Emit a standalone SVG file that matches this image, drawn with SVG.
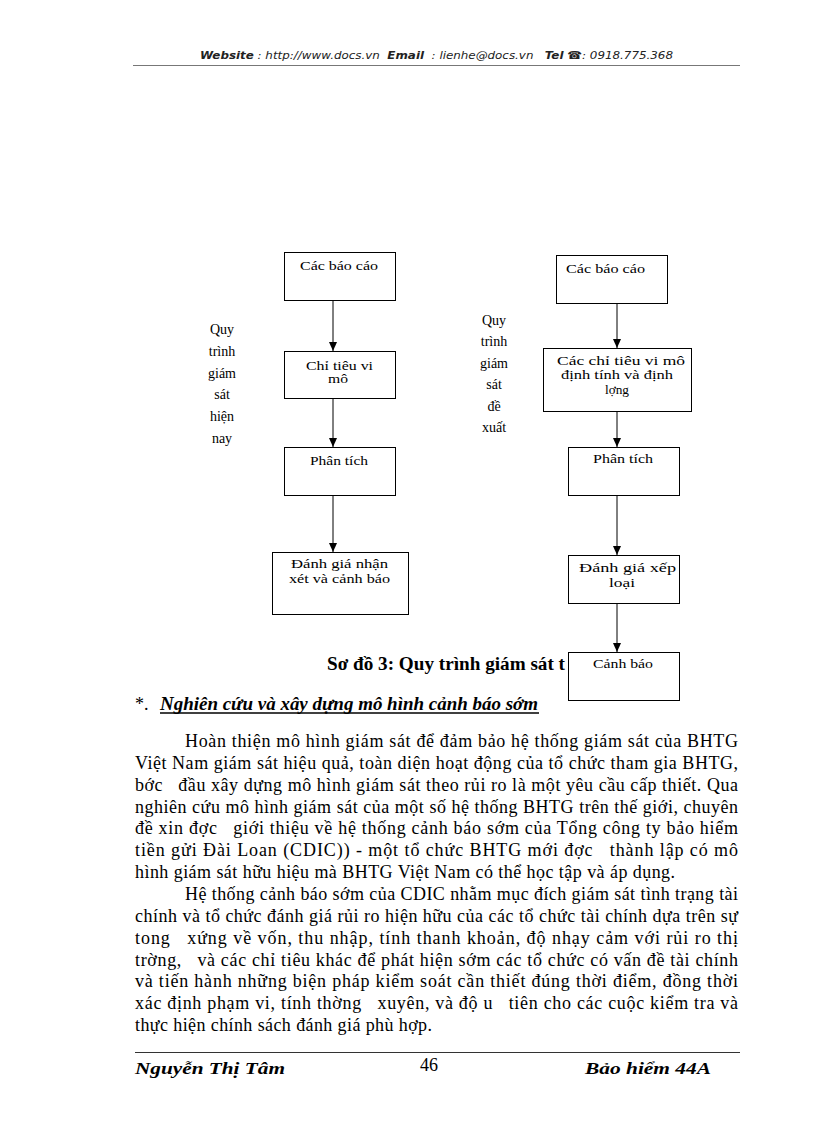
<svg xmlns="http://www.w3.org/2000/svg" width="816" height="1123" viewBox="0 0 816 1123">
<defs>
<marker id="arr" markerUnits="userSpaceOnUse" markerWidth="9" markerHeight="8" refX="9" refY="4" orient="auto" viewBox="0 0 9 8">
<path d="M0,0 L9,4 L0,8 Z" fill="#000"/>
</marker>
<style>
.hdr{font-family:"DejaVu Sans","Liberation Sans",sans-serif;font-size:11px;font-style:italic;fill:#222;white-space:pre}
.hb{font-weight:bold}
.box{fill:#fff;stroke:#000;stroke-width:1}
.bt{font-family:"Liberation Serif",serif;font-size:13.5px;fill:#000}
.lbl{font-family:"Liberation Serif",serif;font-size:14px;fill:#000;text-anchor:middle}
.para{font-family:"Liberation Serif",serif;font-size:18px;fill:#000;white-space:pre}
.cap{font-family:"Liberation Serif",serif;font-size:18px;font-weight:bold;fill:#000}
.head{font-family:"Liberation Serif",serif;font-size:18px;font-weight:bold;font-style:italic;fill:#000}
.ft{font-family:"Liberation Serif",serif;font-size:17px;font-weight:bold;font-style:italic;fill:#000}
.conn line{stroke:#000;stroke-width:1;marker-end:url(#arr)}
</style>
</defs>
<rect width="816" height="1123" fill="#fff"/>

<!-- header -->
<g id="header">
<text class="hdr" x="200" y="59" textLength="473" lengthAdjust="spacingAndGlyphs"><tspan class="hb">Website</tspan> : http://www.docs.vn&#160; <tspan class="hb">Email</tspan>&#160; : lienhe@docs.vn&#160;&#160; <tspan class="hb">Tel</tspan> <tspan class="hb">☎</tspan>: 0918.775.368</text>
<line x1="133" y1="65.5" x2="740" y2="65.5" stroke="#777" stroke-width="1"/>
</g>

<!-- side labels -->
<g id="label-left">
<text class="lbl" x="222" y="334">Quy</text>
<text class="lbl" x="222" y="356">trình</text>
<text class="lbl" x="222" y="378">giám</text>
<text class="lbl" x="222" y="399">sát</text>
<text class="lbl" x="222" y="421">hiện</text>
<text class="lbl" x="222" y="443">nay</text>
</g>
<g id="label-right">
<text class="lbl" x="494" y="325">Quy</text>
<text class="lbl" x="494" y="346">trình</text>
<text class="lbl" x="494" y="368">giám</text>
<text class="lbl" x="494" y="389">sát</text>
<text class="lbl" x="494" y="411">đề</text>
<text class="lbl" x="494" y="432">xuất</text>
</g>

<!-- caption (partly covered by last box) -->
<text id="caption" class="cap" x="327" y="670" textLength="238" lengthAdjust="spacingAndGlyphs">Sơ đồ 3: Quy trình giám sát t</text>

<!-- connectors -->
<g id="connectors" class="conn">
<line x1="333" y1="301" x2="333" y2="351"/>
<line x1="333" y1="399" x2="333" y2="447"/>
<line x1="333" y1="496" x2="333" y2="552"/>
<line x1="617" y1="303" x2="617" y2="348"/>
<line x1="617" y1="412" x2="617" y2="447"/>
<line x1="617" y1="495" x2="617" y2="555"/>
<line x1="617" y1="603" x2="617" y2="652"/>
</g>

<!-- left flow -->
<g id="L1"><rect class="box" x="284.5" y="252.5" width="111" height="48"/>
<text class="bt" x="300" y="270" textLength="78" lengthAdjust="spacingAndGlyphs">Các báo cáo</text></g>
<g id="L2"><rect class="box" x="284.5" y="351.5" width="111" height="47"/>
<text class="bt" x="306" y="370" textLength="67" lengthAdjust="spacingAndGlyphs">Chỉ tiêu vi</text>
<text class="bt" x="328" y="383" textLength="20" lengthAdjust="spacingAndGlyphs">mô</text></g>
<g id="L3"><rect class="box" x="284.5" y="447.5" width="111" height="48"/>
<text class="bt" x="310" y="465" textLength="58" lengthAdjust="spacingAndGlyphs">Phân tích</text></g>
<g id="L4"><rect class="box" x="272.5" y="552.5" width="136" height="62"/>
<text class="bt" x="291" y="568" textLength="97" lengthAdjust="spacingAndGlyphs">Đánh giá nhận</text>
<text class="bt" x="289" y="583" textLength="101" lengthAdjust="spacingAndGlyphs">xét và cảnh báo</text></g>

<!-- right flow -->
<g id="R1"><rect class="box" x="556.5" y="255.5" width="111" height="48"/>
<text class="bt" x="566" y="273" textLength="79" lengthAdjust="spacingAndGlyphs">Các báo cáo</text></g>
<g id="R2"><rect class="box" x="543.5" y="348.5" width="148" height="63"/>
<text class="bt" x="557" y="365" textLength="128" lengthAdjust="spacingAndGlyphs">Các chỉ tiêu vi mô</text>
<text class="bt" x="561" y="379" textLength="112" lengthAdjust="spacingAndGlyphs">định tính và định</text>
<text class="bt" x="605" y="394" textLength="24" lengthAdjust="spacingAndGlyphs">lợng</text></g>
<g id="R3"><rect class="box" x="568.5" y="447.5" width="111" height="48"/>
<text class="bt" x="593" y="463" textLength="60" lengthAdjust="spacingAndGlyphs">Phân tích</text></g>
<g id="R4"><rect class="box" x="568.5" y="555.5" width="111" height="48"/>
<text class="bt" x="579" y="572" textLength="97" lengthAdjust="spacingAndGlyphs">Đánh giá xếp</text>
<text class="bt" x="609" y="587" textLength="26" lengthAdjust="spacingAndGlyphs">loại</text></g>
<g id="R5"><rect class="box" x="568.5" y="652.5" width="111" height="48"/>
<text class="bt" x="593" y="668" textLength="60" lengthAdjust="spacingAndGlyphs">Cảnh báo</text></g>

<!-- heading -->
<g id="heading">
<text class="para" x="135" y="710">*.</text>
<text class="head" x="160" y="710" textLength="378" lengthAdjust="spacingAndGlyphs">Nghiên cứu và xây dựng mô hình cảnh báo sớm</text>
<line x1="160" y1="713" x2="539" y2="713" stroke="#000" stroke-width="1.3"/>
</g>

<!-- body text -->
<g id="body" class="para">
<text x="185" y="747" textLength="553" lengthAdjust="spacing">Hoàn thiện mô hình giám sát để đảm bảo hệ thống giám sát của BHTG</text>
<text x="135" y="768.8" textLength="603" lengthAdjust="spacing">Việt Nam giám sát hiệu quả, toàn diện hoạt động của tổ chức tham gia BHTG,</text>
<text x="135" y="790.7" textLength="603" lengthAdjust="spacing">bớc&#160;&#160; đầu xây dựng mô hình giám sát theo rủi ro là một yêu cầu cấp thiết. Qua</text>
<text x="135" y="812.5" textLength="603" lengthAdjust="spacing">nghiên cứu mô hình giám sát của một số hệ thống BHTG trên thế giới, chuyên</text>
<text x="135" y="834.4" textLength="603" lengthAdjust="spacing">đề xin đợc&#160;&#160; giới thiệu về hệ thống cảnh báo sớm của Tổng công ty bảo hiểm</text>
<text x="135" y="856.2" textLength="603" lengthAdjust="spacing">tiền gửi Đài Loan (CDIC)) - một tổ chức BHTG mới đợc&#160;&#160; thành lập có mô</text>
<text x="135" y="878.1" textLength="540" lengthAdjust="spacing">hình giám sát hữu hiệu mà BHTG Việt Nam có thể học tập và áp dụng.</text>
<text x="185" y="900" textLength="553" lengthAdjust="spacing">Hệ thống cảnh báo sớm của CDIC nhằm mục đích giám sát tình trạng tài</text>
<text x="135" y="921.8" textLength="603" lengthAdjust="spacing">chính và tổ chức đánh giá rủi ro hiện hữu của các tổ chức tài chính dựa trên sự</text>
<text x="135" y="943.7" textLength="603" lengthAdjust="spacing">tong&#160;&#160; xứng về vốn, thu nhập, tính thanh khoản, độ nhạy cảm với rủi ro thị</text>
<text x="135" y="965.5" textLength="603" lengthAdjust="spacing">trờng,&#160;&#160; và các chỉ tiêu khác để phát hiện sớm các tổ chức có vấn đề tài chính</text>
<text x="135" y="987.4" textLength="603" lengthAdjust="spacing">và tiến hành những biện pháp kiểm soát cần thiết đúng thời điểm, đồng thời</text>
<text x="135" y="1009.2" textLength="603" lengthAdjust="spacing">xác định phạm vi, tính thờng&#160;&#160; xuyên, và độ u&#160;&#160; tiên cho các cuộc kiểm tra và</text>
<text x="135" y="1031" textLength="297" lengthAdjust="spacing">thực hiện chính sách đánh giá phù hợp.</text>
</g>

<!-- footer -->
<g id="footer">
<line x1="135" y1="1052.5" x2="740" y2="1052.5" stroke="#333" stroke-width="1"/>
<text class="ft" x="135" y="1074" textLength="150" lengthAdjust="spacingAndGlyphs">Nguyễn Thị Tâm</text>
<text x="429" y="1071" text-anchor="middle" style="font-family:'Liberation Serif',serif;font-size:18px;fill:#000">46</text>
<text class="ft" x="585" y="1074" textLength="126" lengthAdjust="spacingAndGlyphs">Bảo hiểm 44A</text>
</g>
</svg>
